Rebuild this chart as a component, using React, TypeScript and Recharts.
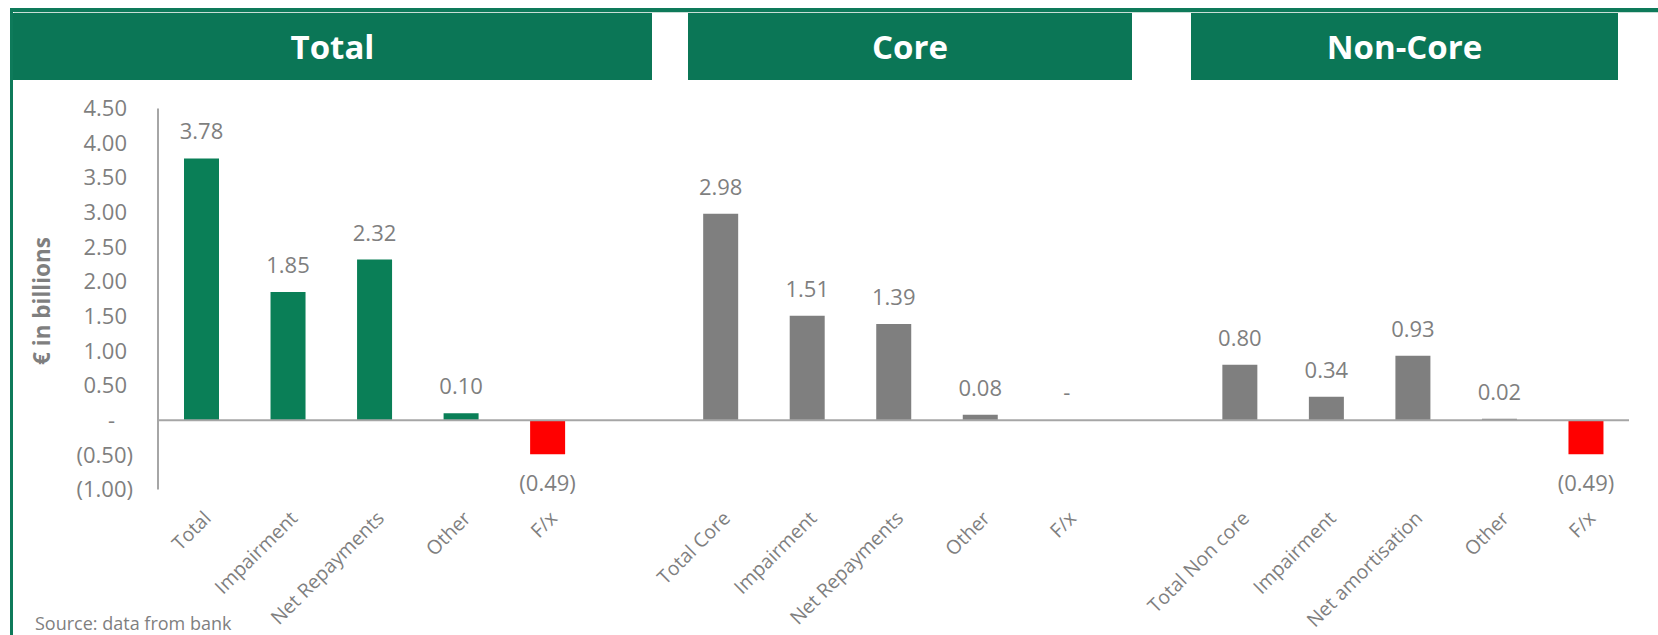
import { Bar, BarChart, Cell, LabelList, ReferenceLine, XAxis, YAxis } from "recharts";

const totalLabels = ["Total", "Impairment", "Net Repayments", "Other", "F/x"];
const totalValues = [3.78, 1.85, 2.32, 0.1, -0.49];

const coreLabels = ["Total Core", "Impairment", "Net Repayments", "Other", "F/x"];
const coreValues = [2.98, 1.51, 1.39, 0.08, 0];

const nonCoreLabels = ["Total Non core", "Impairment", "Net amortisation", "Other", "F/x"];
const nonCoreValues = [0.8, 0.34, 0.93, 0.02, -0.49];

const panelTitles = ["Total", "Core", "Non-Core"];
const yTicks = [-1, -0.5, 0, 0.5, 1, 1.5, 2, 2.5, 3, 3.5, 4, 4.5];

const GREEN = "#0A7F57";
const HEADER_GREEN = "#0B7656";
const GREY_BAR = "#7F7F7F";
const NEG = "#FF0000";
const TEXT = "#7F7F7F";
const AXIS = "#A6A6A6";
const FONT = "'Open Sans', sans-serif";

const W = 1658;
const H = 635;
const PLOT = { left: 158, right: 1629, top: 108.5, bottom: 489.5 };

type Row = { name: string; value: number | null; group: number };

// three groups of bars with an empty slot between each group
const groups = [
  { labels: totalLabels, values: totalValues },
  { labels: coreLabels, values: coreValues },
  { labels: nonCoreLabels, values: nonCoreValues },
];
const rows: Row[] = [];
groups.forEach((g, gi) => {
  if (gi > 0) rows.push({ name: "", value: null, group: -1 });
  g.labels.forEach((name, i) => rows.push({ name, value: g.values[i], group: gi }));
});

// accounting style: 1.23 / (1.23) / -
const fmt = (v: number) => (v === 0 ? "-" : v < 0 ? `(${Math.abs(v).toFixed(2)})` : v.toFixed(2));

const barColor = (r: Row) => {
  if (r.value === 0) return "transparent";
  if (r.value !== null && r.value < 0) return NEG;
  return r.group === 0 ? GREEN : GREY_BAR;
};

function YTick(props: any) {
  const { y, payload } = props;
  const v = payload.value as number;
  const right = PLOT.left - 31;
  const x = v < 0 ? right + 6 : v === 0 ? right - 12 : right;
  return (
    <text x={x} y={y} dy="0.35em" textAnchor="end" fill={TEXT} fontSize={22} fontFamily={FONT}>
      {fmt(v)}
    </text>
  );
}

function XTick(props: any) {
  const { x, payload } = props;
  if (!payload.value) return null;
  const ax = x + 11;
  const ay = PLOT.bottom + 30;
  return (
    <text
      x={ax}
      y={ay}
      textAnchor="end"
      transform={`rotate(-45 ${ax} ${ay})`}
      fill={TEXT}
      fontSize={19.5}
      fontFamily={FONT}
    >
      {payload.value}
    </text>
  );
}

function ValueLabel(props: any) {
  const { x, y, width, height, value } = props;
  if (value === null || value === undefined) return null;
  const top = Math.min(y, y + height);
  const bottom = Math.max(y, y + height);
  const cx = x + width / 2;
  const ty = value < 0 ? bottom + 37 : top - 19;
  return (
    <text x={cx} y={ty} textAnchor="middle" fill={TEXT} fontSize={22} fontFamily={FONT}>
      {fmt(value)}
    </text>
  );
}

const headerBoxes = [
  { left: 13, width: 639 },
  { left: 688, width: 444 },
  { left: 1191, width: 427 },
];

export default function App() {
  return (
    <div style={{ position: "absolute", left: 0, top: 0, width: W, height: H, background: "#fff", overflow: "hidden" }}>
      {/* frame */}
      <div style={{ position: "absolute", left: 10, top: 8, width: W - 10, height: 4, background: "#0E7A5A" }} />
      <div style={{ position: "absolute", left: 14, top: 12, width: W - 14, height: 1, background: "#C9DED6" }} />
      <div style={{ position: "absolute", left: 10, top: 8, width: 3, height: H - 8, background: "#0E7A5A" }} />

      {panelTitles.map((t, i) => (
        <div
          key={t}
          style={{
            position: "absolute",
            left: headerBoxes[i].left,
            top: 13,
            width: headerBoxes[i].width,
            height: 67,
            background: HEADER_GREEN,
            color: "#fff",
            fontFamily: FONT,
            fontWeight: 700,
            fontSize: 33,
            display: "flex",
            alignItems: "center",
            justifyContent: "center",
          }}
        >
          {t}
        </div>
      ))}

      <BarChart
        width={W}
        height={H}
        data={rows}
        margin={{ top: PLOT.top, right: W - PLOT.right, bottom: H - PLOT.bottom - 100, left: PLOT.left - 100 }}
        style={{ position: "absolute", left: 0, top: 0 }}
      >
        <XAxis dataKey="name" height={100} interval={0} tickLine={false} axisLine={false} tick={<XTick />} />
        <YAxis
          width={100}
          domain={[-1, 4.5]}
          ticks={yTicks}
          interval={0}
          tickLine={false}
          axisLine={{ stroke: AXIS, strokeWidth: 2 }}
          tick={<YTick />}
        />
        <Bar dataKey="value" barSize={35} minPointSize={1} isAnimationActive={false}>
          {rows.map((r, i) => (
            <Cell key={i} fill={barColor(r)} />
          ))}
          <LabelList dataKey="value" content={<ValueLabel />} />
        </Bar>
        <ReferenceLine y={0} stroke={AXIS} strokeWidth={2} />
      </BarChart>

      <div
        style={{
          position: "absolute",
          left: 41,
          top: 301,
          transform: "translate(-50%, -50%) rotate(-90deg)",
          whiteSpace: "nowrap",
          color: TEXT,
          fontFamily: FONT,
          fontWeight: 700,
          fontSize: 22.5,
        }}
      >
        € in billions
      </div>

      <div
        style={{
          position: "absolute",
          left: 35,
          top: 611,
          color: TEXT,
          fontFamily: FONT,
          fontSize: 18,
          whiteSpace: "nowrap",
        }}
      >
        Source: data from bank
      </div>
    </div>
  );
}
